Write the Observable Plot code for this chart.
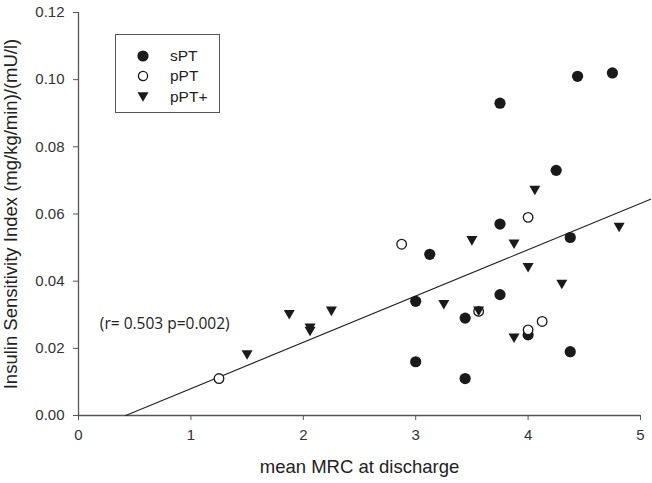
<!DOCTYPE html>
<html>
<head>
<meta charset="utf-8">
<script src="https://cdn.jsdelivr.net/npm/d3@7"></script>
<script src="https://cdn.jsdelivr.net/npm/@observablehq/plot@0.6"></script>
<style>
  html, body { margin: 0; padding: 0; background: #fff; }
  #wrap { position: relative; width: 652px; height: 483px; }
  #legend {
    position: absolute; left: 115px; top: 34px; width: 103px; height: 77px;
    border: 1.5px solid #555; background: #fff;
    font-family: "Liberation Sans", Arial, sans-serif; font-size: 15.5px; color: #222;
  }
  .row { position: absolute; left: 0; height: 20px; display: flex; align-items: center; }
  .row svg { position: absolute; left: 20px; }
  .row span { position: absolute; left: 54px; white-space: nowrap; }
</style>
</head>
<body>
<div id="wrap"></div>
<script>
// ---- data ----
const xTicks = [0, 1, 2, 3, 4, 5];
const yTicks = [0, 0.02, 0.04, 0.06, 0.08, 0.10, 0.12];

const seriesNames = ["sPT", "pPT", "pPT+"];

const sptX = [3.75, 4.44, 4.75, 4.25, 3.75, 4.375, 3.125, 3.0, 3.75, 3.44, 4.0, 4.375, 3.0, 3.44];
const sptY = [0.093, 0.101, 0.102, 0.073, 0.057, 0.053, 0.048, 0.034, 0.036, 0.029, 0.024, 0.019, 0.016, 0.011];

const pptX = [1.25, 2.875, 3.56, 4.0, 4.125, 4.0];
const pptY = [0.011, 0.051, 0.031, 0.059, 0.028, 0.0255];

const pptPlusX = [1.5, 1.875, 2.06, 2.06, 2.25, 3.25, 3.5, 3.56, 3.875, 3.875, 4.0, 4.06, 4.3, 4.81];
const pptPlusY = [0.018, 0.030, 0.026, 0.025, 0.031, 0.033, 0.052, 0.031, 0.051, 0.023, 0.044, 0.067, 0.039, 0.056];

// regression line end points
const fitX = [0.42, 5.09];
const fitY = [0.0, 0.0644];

const annotationText = ["(r= 0.503 p=0.002)"];
const annotationX = [0.19];
const annotationY = [0.0273];

const xLabel = "mean MRC at discharge";
const yLabel = "Insulin Sensitivity Index (mg/kg/min)/(mU/l)";

// ---- build tables ----
const toRows = (xs, ys) => xs.map((x, i) => ({x, y: ys[i]}));
const spt = toRows(sptX, sptY);
const ppt = toRows(pptX, pptY);
const pptPlus = toRows(pptPlusX, pptPlusY);
const fit = toRows(fitX, fitY);
const annot = annotationText.map((t, i) => ({t, x: annotationX[i], y: annotationY[i]}));

const ink = "#1a1a1a";
const triDown = {
  draw(ctx, size) {
    const s = Math.sqrt(size / (Math.sqrt(3) / 4));
    const h = s * Math.sqrt(3) / 2;
    ctx.moveTo(-s / 2, -h / 2);
    ctx.lineTo(s / 2, -h / 2);
    ctx.lineTo(0, h / 2);
    ctx.closePath();
  }
};

const chart = Plot.plot({
  width: 652,
  height: 483,
  marginLeft: 78,
  marginRight: 12,
  marginTop: 12,
  marginBottom: 68,
  style: {fontFamily: "'Liberation Sans', Arial, sans-serif", fontSize: "15px", color: "#333", background: "#fff"},
  x: {domain: [0, 5]},
  y: {domain: [0, 0.12]},
  marks: [
    Plot.axisX({ticks: xTicks, tickSize: 5, tickPadding: 9, label: null, tickFormat: d3.format("d"), fontSize: 15, stroke: "#555"}),
    Plot.axisY({ticks: yTicks, tickSize: 5, tickPadding: 9, label: null, tickFormat: d3.format(".2f"), fontSize: 15, stroke: "#555"}),
    Plot.ruleY([0], {stroke: "#555", strokeWidth: 1.3}),
    Plot.ruleX([0], {stroke: "#555", strokeWidth: 1.3}),
    Plot.line(fit, {x: "x", y: "y", stroke: "#222", strokeWidth: 1.1}),
    Plot.dot(spt, {x: "x", y: "y", r: 5.6, fill: ink, stroke: "none"}),
    Plot.dot(ppt, {x: "x", y: "y", r: 4.8, fill: "#fff", stroke: ink, strokeWidth: 1.3}),
    Plot.dot(pptPlus, {x: "x", y: "y", r: 4.1, symbol: triDown, fill: ink, stroke: "none"}),
    Plot.text(annot, {x: "x", y: "y", text: "t", textAnchor: "start", fontSize: 15.5, fontFamily: "'Open Sans', sans-serif", fill: "#222"}),
    Plot.text([xLabel], {frameAnchor: "bottom", dy: 57, fontSize: 18.5, fill: "#222"}),
    Plot.text([yLabel], {frameAnchor: "left", textAnchor: "middle", rotate: -90, dx: -67, fontSize: 18.5, fill: "#222"})
  ]
});

const wrap = document.getElementById("wrap");
wrap.appendChild(chart);

// ---- legend ----
const legend = document.createElement("div");
legend.id = "legend";
const symbols = [
  `<svg width="14" height="14"><circle cx="7" cy="7" r="5.6" fill="${ink}"/></svg>`,
  `<svg width="14" height="14"><circle cx="7" cy="7" r="4.6" fill="#fff" stroke="${ink}" stroke-width="1.3"/></svg>`,
  `<svg width="14" height="14"><path d="M1.5,2.3 L12.5,2.3 L7,11.8 Z" fill="${ink}"/></svg>`
];
const rowTops = [11, 31, 52];
seriesNames.forEach((name, i) => {
  const row = document.createElement("div");
  row.className = "row";
  row.style.top = rowTops[i] + "px";
  row.innerHTML = symbols[i] + `<span>${name}</span>`;
  legend.appendChild(row);
});
wrap.appendChild(legend);
</script>
</body>
</html>
